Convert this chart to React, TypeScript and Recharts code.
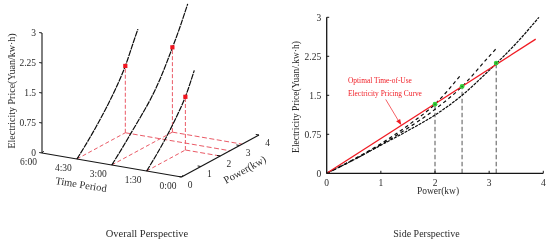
import { ComposedChart, Line, XAxis, YAxis, ReferenceLine } from 'recharts';

const FONT = '"Liberation Serif", serif';
const INK = '#2b2b2b';
const RED = '#f01c24';
const PINK = '#ea5a66';

// time period curves, power (kW) against price (yuan/kWh)
const timeValues = [1.5, 4.5, 3];
const curvePower = [
    [0, 0.5, 1, 1.5, 2, 2.46],
    [0, 0.5, 1, 1.5, 2, 2.5, 3, 3.15],
    [0, 0.5, 1, 1.5, 2, 2.5, 3, 3.5, 3.92],
];
const curvePrice = [
    [0, 0.27, 0.57, 0.92, 1.33, 1.87],
    [0, 0.26, 0.55, 0.87, 1.23, 1.67, 2.25, 2.42],
    [0, 0.26, 0.54, 0.82, 1.12, 1.5, 1.98, 2.5, 3.0],
];
const optimalPower = [2, 2.5, 3.13];
const optimalPrice = [1.33, 1.67, 2.12];
const pricingLinePower = [0, 3.86];
const pricingLinePrice = [0, 2.58];
const arrowPower = [1.09, 1.36];
const arrowPrice = [1.42, 0.95];

const timeTicks = [6, 4.5, 3, 1.5, 0];
const timeLabels = ['6:00', '4:30', '3:00', '1:30', '0:00'];
const powerTicks = [0, 1, 2, 3, 4];
const priceTicks = [0, 0.75, 1.5, 2.25, 3];
const priceLabels = ['0', '0.75', '1.5', '2.25', '3'];

// flat projection of the 3D view onto the left panel
const project = (t: number, p: number, v: number) => ({
    x: 181.5 - 23.25 * t + 19.375 * p,
    y: 177 - 4 * t - 10.5 * p - 40 * v,
});

const segment = (a: number[], b: number[]) => [project(a[0], a[1], a[2]), project(b[0], b[1], b[2])];

const PLAIN = { dataKey: 'y', dot: false, activeDot: false, isAnimationActive: false } as const;
const HIDDEN = { dataKey: 'y', stroke: 'none', activeDot: false, isAnimationActive: false } as const;
const AXIS = '#161616';

const textDot = (size: number, dx: number, dy: number, anchor = 'middle') => (props: any) => (
    <text
        key={props.index}
        x={props.cx + dx}
        y={props.cy + dy}
        textAnchor={anchor}
        fontFamily={FONT}
        fontSize={size}
        fill={INK}
    >
        {props.payload.label}
    </text>
);

const redSquare = (props: any) => (
    <rect key={props.index} x={props.cx - 2.1} y={props.cy - 2.1} width={4.2} height={4.2} fill="#f0141e" />
);

const greenDot = (props: any) => (
    <g key={props.index}>
        <circle cx={props.cx} cy={props.cy} r={2.4} fill="#35d03a" />
        <circle cx={props.cx} cy={props.cy} r={0.7} fill="#1c5a1c" />
    </g>
);

const arrowHead = (props: any) =>
    props.index === 1 ? (
        <path
            key={props.index}
            d={`M${props.cx + 1},${props.cy + 1} l-1.2,-6 l-4,2.4 z`}
            fill={RED}
        />
    ) : (
        <g key={props.index} />
    );

function OverallPerspective() {
    const tickPoints = timeTicks.map((t, i) => ({ ...project(t, 0, 0), label: timeLabels[i] }));
    const powerPoints = powerTicks.map((p) => ({ ...project(0, p, 0), label: String(p) }));
    const pricePoints = priceTicks.map((v, i) => ({ ...project(6, 0, v), label: priceLabels[i] }));

    return (
        <ComposedChart width={275} height={243} margin={{ top: 0, right: 0, bottom: 0, left: 0 }}>
            <XAxis type="number" dataKey="x" domain={[0, 275]} hide />
            <YAxis type="number" dataKey="y" domain={[0, 243]} reversed hide />

            {timeValues.map((t, i) => {
                const p = optimalPower[i];
                const v = optimalPrice[i];
                return [
                    <Line key={`a${i}`} {...PLAIN} data={segment([t, 0, 0], [t, p, 0])} stroke={PINK} strokeWidth={1} strokeDasharray="4 2.5" />,
                    <Line key={`b${i}`} {...PLAIN} data={segment([t, p, 0], [0, p, 0])} stroke={PINK} strokeWidth={1} strokeDasharray="5 2.5" />,
                    <Line key={`c${i}`} {...PLAIN} data={segment([t, p, 0], [t, p, v])} stroke={PINK} strokeWidth={1} strokeDasharray="4 2" />,
                ];
            })}

            {timeValues.map((t, i) => (
                <Line
                    key={`curve${i}`}
                    {...PLAIN}
                    data={curvePower[i].map((p, j) => project(t, p, curvePrice[i][j]))}
                    type="monotone"
                    stroke="#0c0c0c"
                    strokeWidth={1.2}
                    strokeDasharray="6 0.8"
                />
            ))}

            <Line {...PLAIN} data={segment([6, 0, 0], [6, 0, 3])} stroke={AXIS} strokeWidth={1.1} />
            <Line {...PLAIN} data={segment([6, 0, 0], [0, 0, 0])} stroke={AXIS} strokeWidth={1.2} />
            <Line {...PLAIN} data={segment([0, 0, 0], [0, 4, 0])} stroke={AXIS} strokeWidth={1.2} />

            {priceTicks.map((v) => (
                <Line key={`pt${v}`} {...PLAIN} data={segment([6, 0, v], [6.12, 0, v])} stroke={AXIS} strokeWidth={1} />
            ))}
            {timeTicks.map((t) => (
                <Line key={`tt${t}`} {...PLAIN} data={segment([t, 0, 0], [t + 0.06, 0.16, 0])} stroke={AXIS} strokeWidth={1} />
            ))}
            {powerTicks.map((p) => (
                <Line key={`wt${p}`} {...PLAIN} data={segment([0, p, 0], [0.14, p, 0])} stroke={AXIS} strokeWidth={1} />
            ))}

            <Line {...HIDDEN} data={optimalPower.map((p, i) => project(timeValues[i], p, optimalPrice[i]))} dot={redSquare} />
            <Line {...HIDDEN} data={tickPoints} dot={textDot(9.5, -13.5, 11.5)} />
            <Line {...HIDDEN} data={powerPoints} dot={textDot(9.5, 8.5, 10.5)} />
            <Line {...HIDDEN} data={pricePoints} dot={textDot(9.5, -6, 3, 'end')} />

            <text x={81} y={188} transform="rotate(9 81 185)" textAnchor="middle" fontFamily={FONT} fontSize={10.5} fill={INK}>Time Period</text>
            <text x={245} y={173} transform="rotate(-29 245 170)" textAnchor="middle" fontFamily={FONT} fontSize={10.5} fill={INK}>Power(kw)</text>
            <text x={15} y={91} transform="rotate(-90 15 91)" textAnchor="middle" fontFamily={FONT} fontSize={10} fill={INK}>Electricity Price(Yuan/kw·h)</text>
            <text x={147} y={237} textAnchor="middle" fontFamily={FONT} fontSize={10.5} fill={INK}>Overall Perspective</text>
        </ComposedChart>
    );
}

function SidePerspective() {
    const axisLine = { stroke: AXIS, strokeWidth: 1.3 };
    const tick = { fill: INK, fontSize: 9.5, fontFamily: FONT };

    return (
        <ComposedChart width={275} height={243} margin={{ top: 17.3, right: 6.7, bottom: 0, left: 0 }}>
            <XAxis
                type="number"
                dataKey="x"
                domain={[0, 4]}
                ticks={powerTicks}
                height={69.7}
                axisLine={axisLine}
                tickLine={{ stroke: AXIS }}
                tickSize={-2.5}
                tickMargin={8}
                tick={tick}
                interval={0}
            />
            <YAxis
                type="number"
                dataKey="y"
                domain={[0, 3]}
                ticks={priceTicks}
                tickFormatter={(v, i) => priceLabels[i]}
                width={51.7}
                axisLine={axisLine}
                tickLine={{ stroke: AXIS }}
                tickSize={-2.5}
                tickMargin={8}
                tick={tick}
                interval={0}
            />

            {optimalPower.map((p, i) => (
                <ReferenceLine
                    key={`drop${i}`}
                    segment={[{ x: p, y: 0 }, { x: p, y: optimalPrice[i] }]}
                    stroke="#555555"
                    strokeWidth={1}
                    strokeDasharray="4.5 2.5"
                />
            ))}

            {curvePower.map((powers, i) => (
                <Line
                    key={`side${i}`}
                    {...PLAIN}
                    data={powers.map((p, j) => ({ x: p, y: curvePrice[i][j] }))}
                    type="monotone"
                    stroke="#0c0c0c"
                    strokeWidth={1.2}
                    strokeDasharray={i === 2 ? '3 1' : '3.5 3'}
                />
            ))}

            <Line
                {...PLAIN}
                data={pricingLinePower.map((p, i) => ({ x: p, y: pricingLinePrice[i] }))}
                stroke={RED}
                strokeWidth={1.3}
            />
            <Line {...HIDDEN} data={optimalPower.map((p, i) => ({ x: p, y: optimalPrice[i] }))} dot={greenDot} />
            <Line
                {...PLAIN}
                data={arrowPower.map((p, i) => ({ x: p, y: arrowPrice[i] }))}
                stroke={RED}
                strokeWidth={0.7}
                dot={arrowHead}
            />

            <text x={23} y={98} transform="rotate(-90 23 97)" textAnchor="middle" fontFamily={FONT} fontSize={9.5} fill={INK}>Electricity Price(Yuan/.kw·h)</text>
            <text x={163} y={193.5} textAnchor="middle" fontFamily={FONT} fontSize={9.5} fill={INK}>Power(kw)</text>
            <text x={73} y={82.5} fontFamily={FONT} fontSize={7.4} fill={RED}>Optimal Time-of-Use</text>
            <text x={73} y={95.5} fontFamily={FONT} fontSize={7.4} fill={RED}>Electricity Pricing Curve</text>
            <text x={151.5} y={237} textAnchor="middle" fontFamily={FONT} fontSize={10} fill={INK}>Side Perspective</text>
        </ComposedChart>
    );
}

export default function App() {
    return (
        <div style={{ position: 'absolute', left: 0, top: 0, width: 550, height: 243, background: '#ffffff', filter: 'blur(0.3px)' }}>
            <div style={{ position: 'absolute', left: 0, top: 0 }}>
                <OverallPerspective />
            </div>
            <div style={{ position: 'absolute', left: 275, top: 0 }}>
                <SidePerspective />
            </div>
        </div>
    );
}
